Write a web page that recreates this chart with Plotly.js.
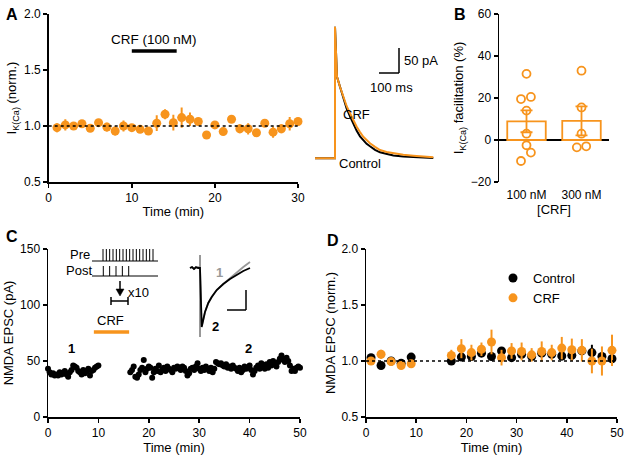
<!DOCTYPE html>
<html><head><meta charset="utf-8">
<script src="https://cdn.plot.ly/plotly-3.0.1.min.js"></script>
<style>html,body{margin:0;padding:0;background:#fff}#chart{width:629px;height:460px}</style>
</head><body><div id="chart"></div>
<script>
// ---------- DATA ----------
// Panel A: normalized IK(Ca) over time
const timeA = [1,2,3,4,5,6,7,8,9,10,11,12,13,14,15,16,17,18,19,20,21,22,23,24,25,26,27,28,29,30];
const ikcaNorm = [0.985,1.01,1.0,1.02,0.98,1.03,0.99,0.955,1.0,0.985,0.97,0.955,1.025,1.105,1.03,1.075,1.06,1.04,0.92,1.01,0.95,1.06,0.975,0.975,0.94,1.025,0.945,0.975,1.02,1.04];
const ikcaErr = [0.04,0.05,0.01,0.02,0.01,0.02,0.04,0.04,0.05,0.03,0.01,0.01,0.07,0.045,0.07,0.09,0.06,0.03,0.01,0.02,0.03,0.02,0.04,0.05,0.03,0.02,0.05,0.04,0.06,0.02];
// Panel A inset: example IK(Ca) traces (ms, pA)
const crfTraceTime = [-100,-50,-1,0,0,10,25,41.5,58,75,91.5,108.5,125,141.5,158,175,200,225,258,291.5,341.5,391.5,441.5,491.5];
const crfTraceI    = [0,0,0,0,263,163,143,123,104.6,90,75,63,52.6,43,36.6,30,23,16.6,12.6,10,7.3,5.3,3.3,2];
const ctrlTraceTime = [-100,-50,-1,0,0,10,25,41.5,58,75,91.5,108.5,125,141.5,158,175,200,225,258,291.5,341.5,391.5,441.5,491.5];
const ctrlTraceI    = [0,0,0,0,263,163,143,121,100,84,68,55,44,36,29,24,17,12,8,5.5,3.5,2,1,0.5];
// Panel B: facilitation (%)
const concLabels = ['100 nM','300 nM'];
const facilMean = [8.9, 9.1];
const facilSem = [5.2, 6.9];
const cells100 = [31.5,19.5,20.5,14,3,-2.5,-6,-10];
const cells300 = [33,15.5,3,-3.5,-3];
const jitter100 = [0,-0.1,0.08,0,0,0,0.08,-0.1];
const jitter300 = [0,0,0,-0.085,0.085];
// Panel C: NMDA EPSC amplitude (pA)
const timeC1 = [0,0.33,0.67,1,1.33,1.67,2,2.33,2.67,3,3.33,3.67,4,4.33,4.67,5,5.33,5.67,6,6.33,6.67,7,7.33,7.67,8,8.33,8.67,9,9.33,9.67,10];
const epscC1 = [43,40,38,39,37,38,37,40,38,39,41,38,36,40,42,46,45,44,41,40,38,42,39,41,43,37,41,42,44,45,46];
const timeC2 = [16.33,16.67,17,17.33,17.67,18,18.33,18.67,19,19.33,19.67,20,20.33,20.67,21,21.33,21.67,22,22.33,22.67,23,23.33,23.67,24,24.33,24.67,25,25.33,25.67,26,26.33,26.67,27,27.33,27.67,28,28.33,28.67,29,29.33,29.67,30,30.33,30.67,31,31.33,31.67,32,32.33,32.67,33,33.33,33.67,34,34.33,34.67,35,35.33,35.67,36,36.33,36.67,37,37.33,37.67,38,38.33,38.67,39,39.33,39.67,40,40.33,40.67,41,41.33,41.67,42,42.33,42.67,43,43.33,43.67,44,44.33,44.67,45,45.33,45.67,46,46.33,46.67,47,47.33,47.67,48,48.33,48.67,49,49.33,49.67,50];
const epscC2 = [40,42,45,36,35,38,42,44,51,40,43,45,44,35,40,43,41,46,40,42,44,41,45,43,42,40,44,43,45,44,42,45,44,41,37,39,43,44,42,45,48,43,41,44,42,45,43,41,44,40,43,49,48,47,48,46,45,47,44,45,43,46,44,43,41,44,40,42,45,43,44,46,42,38,41,44,46,43,48,45,43,47,44,49,46,50,47,45,49,52,55,51,49,53,50,46,41,43,41,44,45,44];
// Panel C inset: EPSC traces (arbitrary units)
const epscTraceTime = [-10,-8,-6,-4,-2,0,1.7,5,8.3,11.7,16.7,23.3,30,36.7,43.3,50];
const epscTrace2 = [0,1,-1,1,0,0,-59,-44,-35,-29,-22,-16,-11,-7,-3,0];
const epscTrace1 = [0,1,-1,0,1,0,-58,-44,-35,-29,-22,-16,-10,-4,1,6];
const artifactTime = [0,0];
const artifactI = [13,-69];
// Panel D: normalized NMDA EPSC
const timeD = [1,3,5,7,9,17,19,21,23,25,27,29,31,33,35,37,39,41,43,45,47,49];
const ctrlD = [1.03,0.96,1.0,0.98,1.035,1.0,1.035,1.04,1.07,1.04,1.09,1.03,1.06,1.04,1.07,1.06,1.045,1.05,1.09,1.075,1.04,1.02];
const ctrlDErr = [0.02,0.02,0.02,0.02,0.02,0.02,0.02,0.02,0.03,0.02,0.02,0.03,0.02,0.03,0.02,0.02,0.04,0.02,0.03,0.07,0.02,0.02];
const crfD = [1.0,1.06,0.995,0.96,0.975,1.05,1.11,1.075,1.105,1.17,1.03,1.09,1.085,1.055,1.085,1.075,1.115,1.10,1.095,1.0,1.0,1.095];
const crfDErr = [0.02,0.04,0.02,0.02,0.02,0.05,0.085,0.07,0.06,0.11,0.07,0.07,0.08,0.06,0.09,0.07,0.1,0.1,0.1,0.11,0.13,0.14];

// ---------- HELPERS ----------
const W=629,H=460;
const px=x=>x/W, py=y=>1-y/H;
const ORANGE='#F7941D';
const FONT='Liberation Sans, Arial, Helvetica, sans-serif';
function axis(o, titleText, standoff){
  const a = {showline:true, linecolor:'#000', linewidth:1.5, ticks:'outside', ticklen:4, tickwidth:1.5,
    tickcolor:'#000', showgrid:false, zeroline:false, tickfont:{size:12,color:'#000'}, fixedrange:true};
  if (titleText) a.title = {text:titleText, font:{size:13,color:'#000'}, standoff: standoff};
  return Object.assign(a, o);
}
const hidden = o => Object.assign({visible:false, fixedrange:true, showgrid:false, zeroline:false}, o);

// ---------- TRACES ----------
const traces = [
  {x:timeA, y:ikcaNorm, type:'scatter', mode:'markers', xaxis:'x', yaxis:'y', showlegend:false, cliponaxis:false,
   marker:{color:ORANGE,size:9}, error_y:{type:'data',array:ikcaErr,color:ORANGE,thickness:2,width:0}},
  {x:ctrlTraceTime, y:ctrlTraceI, type:'scatter', mode:'lines', xaxis:'x2', yaxis:'y2', showlegend:false,
   line:{color:'#000',width:2}},
  {x:crfTraceTime, y:crfTraceI, type:'scatter', mode:'lines', xaxis:'x2', yaxis:'y2', showlegend:false,
   line:{color:ORANGE,width:2}},
  {x:[0,1], y:facilMean, type:'bar', width:0.7, xaxis:'x3', yaxis:'y3', showlegend:false,
   marker:{color:'#fff', line:{color:ORANGE,width:1.8}},
   error_y:{type:'data',array:facilSem,color:ORANGE,thickness:1.8,width:6}},
  {x:jitter100.map(j=>0+j), y:cells100, type:'scatter', mode:'markers', xaxis:'x3', yaxis:'y3', showlegend:false,
   marker:{symbol:'circle-open',color:ORANGE,size:8,line:{width:1.8}}},
  {x:jitter300.map(j=>1+j), y:cells300, type:'scatter', mode:'markers', xaxis:'x3', yaxis:'y3', showlegend:false,
   marker:{symbol:'circle-open',color:ORANGE,size:8,line:{width:1.8}}},
  {x:timeC1.concat(timeC2), y:epscC1.concat(epscC2), type:'scatter', mode:'markers', xaxis:'x4', yaxis:'y4', showlegend:false, cliponaxis:false,
   marker:{color:'#000',size:6}},
  {x:artifactTime, y:artifactI, type:'scatter', mode:'lines', xaxis:'x5', yaxis:'y5', showlegend:false,
   line:{color:'#333',width:1}},
  {x:epscTraceTime, y:epscTrace1, type:'scatter', mode:'lines', xaxis:'x5', yaxis:'y5', showlegend:false,
   line:{color:'#999',width:1.8}},
  {x:epscTraceTime, y:epscTrace2, type:'scatter', mode:'lines', xaxis:'x5', yaxis:'y5', showlegend:false,
   line:{color:'#000',width:1.8}},
  {x:timeD, y:ctrlD, name:'Control', type:'scatter', mode:'markers', xaxis:'x6', yaxis:'y6', cliponaxis:false,
   marker:{color:'#000',size:9}, error_y:{type:'data',array:ctrlDErr,color:'#000',thickness:2,width:0}},
  {x:timeD, y:crfD, name:'CRF', type:'scatter', mode:'markers', xaxis:'x6', yaxis:'y6', cliponaxis:false,
   marker:{color:ORANGE,size:9}, error_y:{type:'data',array:crfDErr,color:ORANGE,thickness:2,width:0}}
];

// ---------- SHAPES ----------
const L = (x0,y0,x1,y1,color,width,dash)=>({type:'line',xref:'paper',yref:'paper',x0:px(x0),y0:py(y0),x1:px(x1),y1:py(y1),
  line:{color:color||'#000',width:width||1.5,dash:dash||'solid'}});
const shapes = [
  {type:'line',xref:'x',yref:'y',x0:0,x1:30,y0:1,y1:1,line:{color:'#000',width:1.5,dash:'dot'}},
  {type:'line',xref:'x6',yref:'y6',x0:0,x1:50,y0:1,y1:1,line:{color:'#000',width:1.5,dash:'dot'}},
  {type:'line',xref:'x',yref:'y',x0:10,x1:15.4,y0:1.67,y1:1.67,line:{color:'#000',width:3.5}},
  {type:'line',xref:'x4',yref:'y4',x0:9.1,x1:16.1,y0:76,y1:76,line:{color:ORANGE,width:3.5}},
  // A inset scale bar
  L(399,48,399,73), L(379,73,399,73),
  // C protocol lines
  L(92,261,158,261,'#000',1), L(92,276,158,276,'#000',1),
  // arrow shaft and head
  L(120,281,120,290),
  {type:'path',xref:'paper',yref:'paper',
   path:`M ${px(116)} ${py(289)} L ${px(124)} ${py(289)} L ${px(120)} ${py(296)} Z`,
   fillcolor:'#000',line:{color:'#000',width:0.5}},
  // bracket
  L(111,301,128,301), L(111,297,111,305), L(128,297,128,305),
  // C inset scale bar
  L(246,290,246,310), L(227,310,246,310)
];
for (let i=0;i<16;i++){ const x=103+i*(50/15); shapes.push(L(x,249,x,261,'#000',1)); }
for (let i=0;i<5;i++){ const x=103.3+i*6.35; shapes.push(L(x,266,x,276,'#000',1)); }

// ---------- ANNOTATIONS ----------
const T = (x,y,text,o)=>Object.assign({xref:'paper',yref:'paper',x:px(x),y:py(y),text:text,showarrow:false,
  xanchor:'center',yanchor:'middle',font:{size:13,color:'#000',family:FONT}},o||{});
const annotations = [
  T(12,14,'<b>A</b>',{font:{size:16,color:'#000',family:FONT}}),
  T(460,14,'<b>B</b>',{font:{size:16,color:'#000',family:FONT}}),
  T(12,236,'<b>C</b>',{font:{size:16,color:'#000',family:FONT}}),
  T(333,240,'<b>D</b>',{font:{size:16,color:'#000',family:FONT}}),
  {xref:'x',yref:'y',x:12.7,y:1.77,text:'CRF (100 nM)',showarrow:false,font:{size:13.5,color:'#000',family:FONT}},
  T(402,60,'50 pA',{xanchor:'left'}),
  T(391,87,'100 ms'),
  T(356,114,'CRF'),
  T(360,164,'Control'),
  T(92,254,'Pre',{xanchor:'right'}),
  T(94,270,'Post',{xanchor:'right'}),
  T(126,292,'x10',{xanchor:'left'}),
  T(110,320,'CRF'),
  T(71,348,'<b>1</b>'),
  T(248,348,'<b>2</b>'),
  T(219,272,'<b>1</b>',{font:{size:13,color:'#999',family:FONT}}),
  T(215,326,'<b>2</b>')
];

// ---------- LAYOUT ----------
const layout = {
  width:W, height:H, margin:{l:0,r:0,t:0,b:0}, paper_bgcolor:'#fff', plot_bgcolor:'rgba(0,0,0,0)',
  font:{family:FONT,color:'#000',size:12}, hovermode:false, bargap:0,
  showlegend:true,
  legend:{x:px(493),y:py(263),xanchor:'left',yanchor:'top',font:{size:13,color:'#000'},bgcolor:'rgba(0,0,0,0)',
          itemwidth:30, tracegroupgap:0},
  xaxis: axis({domain:[px(48.7),px(298)],range:[0,30],tickvals:[0,10,20,30],anchor:'y'},'Time (min)',3),
  yaxis: axis({domain:[py(182),py(14)],range:[0.5,2],tickvals:[0.5,1,1.5,2],tickformat:'.1f',anchor:'x'},'I<sub>K(Ca)</sub> (norm.)',4),
  xaxis2: hidden({domain:[px(313),px(437)],range:[-110,510],anchor:'y2'}),
  yaxis2: hidden({domain:[py(163.3),py(18.3)],range:[-10,280],anchor:'x2'}),
  xaxis3: axis({domain:[px(499),px(609)],range:[-0.5,1.5],tickvals:[0,1],ticktext:concLabels,showline:false,tickcolor:'rgba(0,0,0,0)',ticklen:2,anchor:'y3'},'[CRF]',3),
  yaxis3: axis({domain:[py(182),py(14)],range:[-20,60],tickvals:[-20,0,20,40,60],zeroline:true,zerolinecolor:'#000',zerolinewidth:1.5,anchor:'x3'},'I<sub>K(Ca)</sub> facilitation (%)',4),
  xaxis4: axis({domain:[px(48),px(300)],range:[0,50],tickvals:[0,10,20,30,40,50],anchor:'y4'},'Time (min)',4),
  yaxis4: axis({domain:[py(417),py(249)],range:[0,150],tickvals:[0,50,100,150],anchor:'x4'},'NMDA EPSC (pA)',3),
  xaxis5: hidden({domain:[px(185),px(255)],range:[-15,55],anchor:'y5'}),
  yaxis5: hidden({domain:[py(340),py(250)],range:[-72,18],anchor:'x5'}),
  xaxis6: axis({domain:[px(366),px(617)],range:[0,50],tickvals:[0,10,20,30,40,50],anchor:'y6'},'Time (min)',4),
  yaxis6: axis({domain:[py(417),py(249)],range:[0.5,2],tickvals:[0.5,1,1.5,2],tickformat:'.1f',anchor:'x6'},'NMDA EPSC (norm.)',3),
  shapes: shapes,
  annotations: annotations
};

Plotly.newPlot('chart', traces, layout, {displayModeBar:false, staticPlot:true});
</script>
</body></html>
